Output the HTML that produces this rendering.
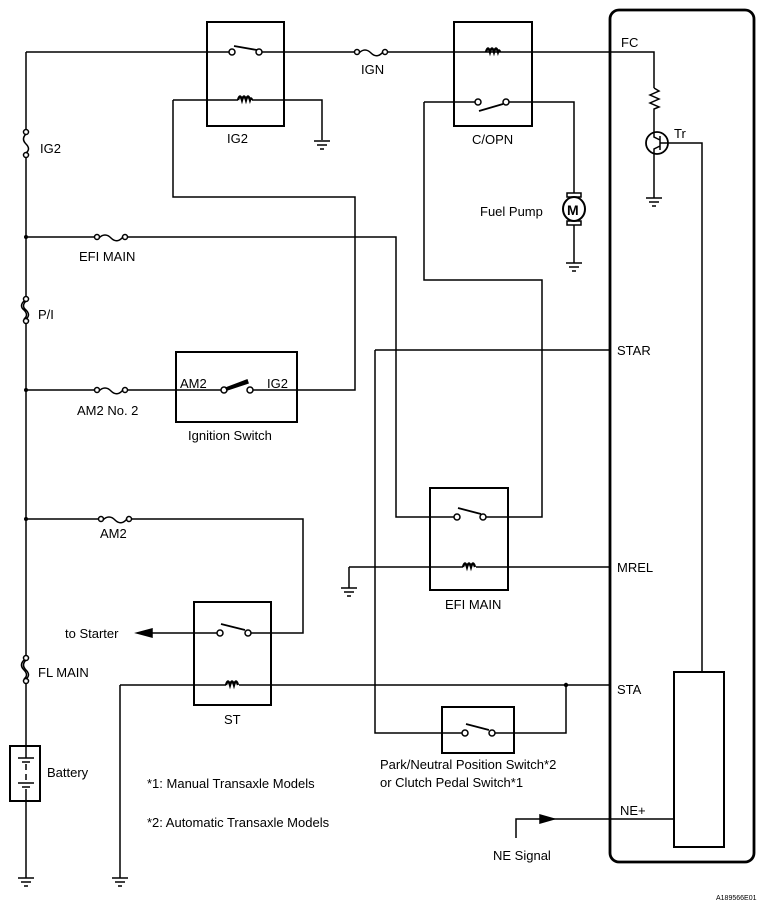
<!DOCTYPE html>
<html><head><meta charset="utf-8"><style>
html,body{margin:0;padding:0;background:#fff;}
svg{display:block;}
text{font-family:"Liberation Sans",Arial,sans-serif;font-size:13px;fill:#000;}
</style></head><body>
<svg width="773" height="904" viewBox="0 0 773 904" xmlns="http://www.w3.org/2000/svg">
<g fill="none" stroke="#000" stroke-width="1.5">
<path d="M26 52 V130 M26 157 V297 M26 323 V656 M26 683 V746 M26 801 V878"/>
<circle cx="26" cy="132" r="2.5" fill="#fff"/><circle cx="26" cy="155" r="2.5" fill="#fff"/>
<path d="M26 134 q-5 5 0 10 q5 5 0 9"/>
<circle cx="26" cy="299" r="2.5" fill="#fff"/><circle cx="26" cy="321" r="2.5" fill="#fff"/>
<path d="M26 301 q-5 5 0 9 q5 5 0 9 M24 301 q-5 5 0 9 q5 5 0 9"/>
<circle cx="26" cy="658" r="2.5" fill="#fff"/><circle cx="26" cy="681" r="2.5" fill="#fff"/>
<path d="M26 660 q-5 5 0 10 q5 5 0 9 M24 660 q-5 5 0 10 q5 5 0 9"/>
<path d="M26 52 H232 M259 52 H355 M387 52 H611 M532 52 H654 V88"/>
<circle cx="232" cy="52" r="3" fill="#fff"/><circle cx="259" cy="52" r="3" fill="#fff"/>
<path d="M234 46 L257 50" stroke-width="1.8"/>
<circle cx="357" cy="52" r="2.5" fill="#fff"/><circle cx="385" cy="52" r="2.5" fill="#fff"/>
<path d="M359 53 q6 -6 12 0 q6 6 12 -1"/>
<rect x="207" y="22" width="77" height="104" stroke-width="2"/>
<path d="M173 100 H238 M252 100 H322 V140 M173 100 V197 H355 V390 H297"/>
<path d="M314 141 H330 M317 145 H327 M320 149 H324"/>
<rect x="454" y="22" width="78" height="104" stroke-width="2"/>
<path d="M424 102 H478 M506 102 H574 V193 M424 102 V280 H542 V517 H483"/>
<circle cx="478" cy="102" r="3" fill="#fff"/><circle cx="506" cy="102" r="3" fill="#fff"/>
<path d="M479 111 L503 104" stroke-width="1.8"/>
<rect x="567" y="193" width="14" height="4" fill="#fff"/><rect x="567" y="221" width="14" height="4" fill="#fff"/>
<ellipse cx="574" cy="209" rx="11" ry="12" stroke-width="2" fill="#fff"/>
<path d="M574 225 V263 M566 263 H582 M569 267 H579 M572 271 H576"/>
<path d="M654 88 l5 3 l-9 4 l9 4 l-9 4 l9 4 l-5 2 V132"/>
<circle cx="657" cy="143" r="11" stroke-width="1.8"/>
<path d="M654 132 V137 L660 140 M660 136 V150 M660 146 L654 149 V198 M646 198 H662 M649 202 H659 M652 206 H656 M660 143 H702 V672"/>
<path d="M26 237 H95 M127 237 H396 V517 H457"/>
<circle cx="97" cy="237" r="2.5" fill="#fff"/><circle cx="125" cy="237" r="2.5" fill="#fff"/>
<path d="M99 238 q6 -6 12 0 q6 6 12 -1"/>
<path d="M26 390 H95 M127 390 H224 M250 390 H297"/>
<circle cx="97" cy="390" r="2.5" fill="#fff"/><circle cx="125" cy="390" r="2.5" fill="#fff"/>
<path d="M99 391 q6 -6 12 0 q6 6 12 -1"/>
<rect x="176" y="352" width="121" height="70" stroke-width="2"/>
<circle cx="224" cy="390" r="3" fill="#fff"/><circle cx="250" cy="390" r="3" fill="#fff"/>
<path d="M226 388 L247 380 L248 383 L227 390 Z" fill="#000"/>
<path d="M375 350 H611 M375 350 V733 H465 M492 733 H566 V685"/>
<rect x="430" y="488" width="78" height="102" stroke-width="2"/>
<circle cx="457" cy="517" r="3" fill="#fff"/><circle cx="483" cy="517" r="3" fill="#fff"/>
<path d="M458 508 L481 514" stroke-width="1.8"/>
<path d="M349 567 H463 M476 567 H611 M349 567 V588 M341 588 H357 M344 592 H354 M347 596 H351"/>
<path d="M26 519 H99 M131 519 H303 V633 H248 M220 633 H148"/>
<circle cx="101" cy="519" r="2.5" fill="#fff"/><circle cx="129" cy="519" r="2.5" fill="#fff"/>
<path d="M103 520 q6 -6 12 0 q6 6 12 -1"/>
<path d="M137 633 L152 629 L152 637 Z" fill="#000"/>
<rect x="194" y="602" width="77" height="103" stroke-width="2"/>
<circle cx="220" cy="633" r="3" fill="#fff"/><circle cx="248" cy="633" r="3" fill="#fff"/>
<path d="M221 624 L245 630" stroke-width="1.8"/>
<path d="M120 685 H226 M239 685 H611 M120 685 V878"/>
<rect x="442" y="707" width="72" height="46" stroke-width="2"/>
<circle cx="465" cy="733" r="3" fill="#fff"/><circle cx="492" cy="733" r="3" fill="#fff"/>
<path d="M466 724 L489 730" stroke-width="1.8"/>
<path d="M516 838 V819 H674"/>
<path d="M554 819 L540 815 L540 823 Z" fill="#000"/>
<rect x="10" y="746" width="30" height="55" stroke-width="2"/>
<path d="M26 746 V758 M18 758 H34 M22 762 H30 M26 764 V770 M26 774 V780 M18 783 H34 M22 787 H30 M26 789 V801"/>
<path d="M18 878 H34 M21 882 H31 M24 886 H28 M112 878 H128 M115 882 H125 M118 886 H122"/>
<rect x="610" y="10" width="144" height="852" rx="9" stroke-width="2.8"/>
<rect x="674" y="672" width="50" height="175" stroke-width="2"/>
</g>
<g fill="#000">
<circle cx="26" cy="237" r="2"/><circle cx="26" cy="390" r="2"/><circle cx="26" cy="519" r="2"/><circle cx="566" cy="685" r="2.2"/>
<g fill="none" stroke="#000" stroke-width="2.4">
<path d="M238 100 q2 -7 4 0 q2 -7 4 0 q2 -7 4 0 q1 -3 2 0"/>
<path d="M486 52 q2 -7 4 0 q2 -7 4 0 q2 -7 4 0 q1 -3 2 0"/>
<path d="M463 567 q2 -7 4 0 q2 -7 4 0 q2 -7 4 0"/>
<path d="M226 685 q2 -7 4 0 q2 -7 4 0 q2 -7 4 0"/>
</g>
</g>
<text x="567" y="215" style="font-size:14px;font-weight:bold">M</text>
<text x="40" y="153">IG2</text>
<text x="38" y="319">P/I</text>
<text x="38" y="677">FL MAIN</text>
<text x="47" y="777">Battery</text>
<text x="227" y="143">IG2</text>
<text x="361" y="74">IGN</text>
<text x="472" y="144">C/OPN</text>
<text x="480" y="216">Fuel Pump</text>
<text x="621" y="47">FC</text>
<text x="674" y="138">Tr</text>
<text x="79" y="261">EFI MAIN</text>
<text x="180" y="388">AM2</text>
<text x="267" y="388">IG2</text>
<text x="77" y="415">AM2 No. 2</text>
<text x="188" y="440">Ignition Switch</text>
<text x="617" y="355">STAR</text>
<text x="617" y="572">MREL</text>
<text x="617" y="694">STA</text>
<text x="620" y="815">NE+</text>
<text x="445" y="609">EFI MAIN</text>
<text x="100" y="538">AM2</text>
<text x="65" y="638">to Starter</text>
<text x="224" y="724">ST</text>
<text x="380" y="769">Park/Neutral Position Switch*2</text>
<text x="380" y="787">or Clutch Pedal Switch*1</text>
<text x="147" y="788">*1: Manual Transaxle Models</text>
<text x="147" y="827">*2: Automatic Transaxle Models</text>
<text x="493" y="860">NE Signal</text>
<text x="716" y="900" style="font-size:7px">A189566E01</text>
</svg>
</body></html>
